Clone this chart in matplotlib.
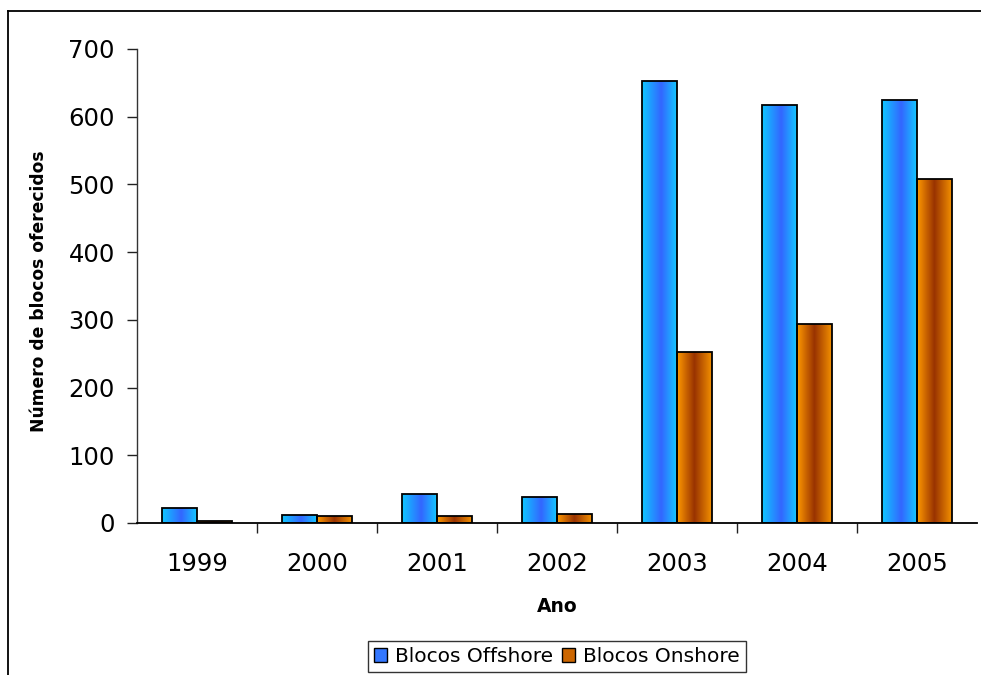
import numpy as np
import matplotlib
matplotlib.use("Agg")
import matplotlib.pyplot as plt
from matplotlib.colors import LinearSegmentedColormap
from matplotlib.patches import Patch
from matplotlib.lines import Line2D

years = ["1999", "2000", "2001", "2002", "2003", "2004", "2005"]
offshore = [22, 12, 43, 39, 653, 618, 624]
onshore = [3, 10, 10, 14, 253, 294, 508]

series_names = ["Blocos Offshore", "Blocos Onshore"]
ylabel = "Número de blocos oferecidos"
xlabel = "Ano"

plt.rcParams["font.family"] = ["DejaVu Sans"]

blue_cmap = LinearSegmentedColormap.from_list(
    "blue_grad", [(0.0, "#0fc8ff"), (0.55, "#3366ff"), (1.0, "#14c8ff")])
orange_cmap = LinearSegmentedColormap.from_list(
    "orange_grad", [(0.0, "#ff9900"), (0.5, "#993300"), (1.0, "#f39000")])

fig = plt.figure(figsize=(9.81, 6.75), dpi=100)
ax = fig.add_axes([137 / 981, 1 - 523 / 675, (977 - 137) / 981, (523 - 49) / 675])

x = np.arange(len(years))
w = 0.29
grad = np.linspace(0, 1, 256).reshape(1, -1)


def gradient_bars(xpos, values, cmap):
    bars = ax.bar(xpos, values, width=w, facecolor="none", edgecolor="black",
                  linewidth=1.3, zorder=3)
    for p in bars:
        x0, y0 = p.get_x(), p.get_y()
        bw, bh = p.get_width(), p.get_height()
        im = ax.imshow(grad, extent=[x0, x0 + bw, y0, y0 + bh], aspect="auto",
                       cmap=cmap, origin="lower", zorder=2, interpolation="bilinear")
        im.set_clip_path(p)
    return bars


gradient_bars(x - w / 2, offshore, blue_cmap)
gradient_bars(x + w / 2, onshore, orange_cmap)

ax.set_xlim(-0.5, len(years) - 0.5)
ax.set_ylim(0, 700)
ax.set_yticks(np.arange(0, 701, 100))

ax.set_xticks(x)
ax.set_xticklabels(years)
ax.set_xticks(np.arange(0.5, len(years) - 0.5, 1), minor=True)
ax.tick_params(axis="x", which="major", length=0, pad=21, labelsize=17.5)
ax.tick_params(axis="x", which="minor", length=7, width=1, color="#222222", direction="out")
ax.tick_params(axis="y", length=7, width=1, color="#222222", pad=9, labelsize=17.5)

for s in ["top", "right"]:
    ax.spines[s].set_visible(False)
ax.spines["left"].set_color("#333333")
ax.spines["bottom"].set_color("black")
ax.spines["left"].set_linewidth(1)
ax.spines["bottom"].set_linewidth(1.3)

ax.set_ylabel(ylabel, fontsize=12.3, fontweight="bold")
ax.yaxis.set_label_coords(-0.106, 0.489)
ax.set_xlabel(xlabel, fontsize=13.5, fontweight="bold", labelpad=15)

handles = [Patch(facecolor="#3377ff", edgecolor="black", linewidth=1),
           Patch(facecolor="#cc6600", edgecolor="black", linewidth=1)]
leg = fig.legend(handles, series_names, loc="upper center",
                 bbox_to_anchor=(557 / 981, 1 - 641 / 675), ncol=2, fontsize=14.5,
                 frameon=True, fancybox=False, handlelength=0.65, handleheight=0.65,
                 handletextpad=0.4, columnspacing=0.45, borderpad=0.3,
                 borderaxespad=0)
leg.get_frame().set_edgecolor("black")
leg.get_frame().set_linewidth(1)

# chart area border (left and top edges)
fig.add_artist(Line2D([8 / 981, 8 / 981], [0, 1 - 11 / 675], transform=fig.transFigure,
                      color="black", linewidth=1.3))
fig.add_artist(Line2D([8 / 981, 1], [1 - 11 / 675, 1 - 11 / 675], transform=fig.transFigure,
                      color="black", linewidth=1.3))

fig.savefig("out.png", dpi=100)
